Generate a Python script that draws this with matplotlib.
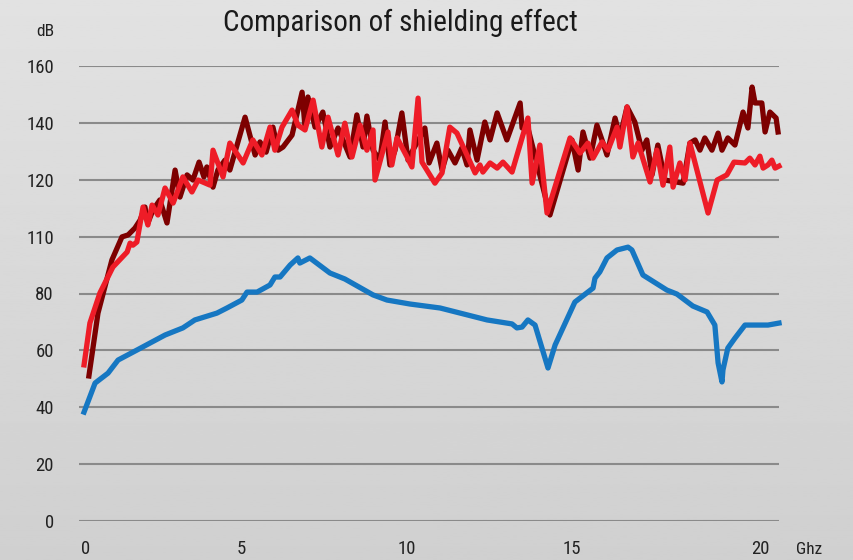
import numpy as np
import matplotlib
matplotlib.use("Agg")
import matplotlib.pyplot as plt

FONT = ["Liberation Sans Narrow", "Roboto Condensed", "Liberation Sans", "DejaVu Sans"]

# frequency (GHz) / shielding (dB)
dark_x = [0.09, 0.37, 0.80, 1.11, 1.30, 1.51, 1.67, 1.82, 1.91, 2.07, 2.28, 2.50, 2.75, 2.90,
          3.12, 3.30, 3.49, 3.64, 3.73, 3.92, 4.07, 4.29, 4.44, 4.91, 5.22, 5.37, 5.56, 5.77,
          5.93, 6.08, 6.36, 6.67, 6.76, 6.85, 7.07, 7.31, 7.53, 7.78, 8.15, 8.36, 8.55, 8.67,
          8.86, 9.07, 9.23, 9.38, 9.54, 9.75, 9.94, 10.09, 10.46, 10.59, 10.83, 10.99, 11.17,
          11.39, 11.60, 11.76, 11.85, 12.07, 12.31, 12.47, 12.69, 12.99, 13.40, 13.46, 13.64,
          14.32, 15.00, 15.19, 15.34, 15.56, 15.77, 15.96, 16.08, 16.33, 16.48, 16.70, 16.94,
          17.16, 17.31, 17.47, 17.65, 17.87, 18.43, 18.64, 18.80, 18.95, 19.10, 19.32, 19.51,
          19.63, 19.81, 20.03, 20.28, 20.43, 20.56, 20.65, 20.86, 20.96, 21.11, 21.30, 21.36]
dark_y = [51.0, 73.1, 91.8, 99.9, 100.6, 103.0, 105.8, 110.4, 104.8, 109.4, 112.9, 104.8, 123.4, 113.9,
          121.7, 119.9, 126.2, 121.0, 124.5, 117.4, 123.4, 126.9, 123.4, 142.0, 128.7, 133.3, 129.7, 138.5,
          130.4, 131.5, 135.7, 150.8, 138.5, 149.1, 138.5, 143.8, 131.5, 138.2, 128.0, 142.8, 131.5, 142.4,
          130.4, 126.9, 140.3, 125.2, 130.4, 143.5, 126.9, 130.4, 138.2, 125.9, 132.9, 123.4, 130.4,
          125.9, 131.2, 125.2, 137.5, 126.9, 140.3, 134.0, 143.5, 134.0, 147.0, 138.2, 138.2,
          107.6, 134.0, 123.4, 136.8, 127.6, 139.2, 132.9, 128.7, 141.7, 135.0, 145.6, 140.3,
          130.4, 134.0, 121.7, 132.2, 119.9, 118.8, 132.9, 134.0, 130.4, 134.7, 130.4, 136.4,
          130.4, 134.7, 132.2, 143.8, 138.2, 152.6, 147.0, 147.0, 136.8, 143.8, 141.7, 136.8]

red_x = [-0.06, 0.12, 0.43, 0.83, 1.27, 1.36, 1.45, 1.57, 1.76, 1.91, 2.04, 2.22, 2.44, 2.69,
         2.99, 3.27, 3.46, 3.83, 3.92, 4.23, 4.44, 4.85, 5.15, 5.43, 5.68, 5.83, 6.05, 6.36,
         6.54, 6.76, 7.01, 7.28, 7.47, 7.78, 7.99, 8.21, 8.46, 8.67, 8.86, 8.92, 9.32, 9.44,
         9.60, 9.91, 10.06, 10.25, 10.37, 10.77, 10.99, 11.23, 11.45, 12.01, 12.16, 12.25,
         12.47, 12.69, 12.87, 13.15, 13.64, 13.77, 14.01, 14.23, 14.94, 15.25, 15.49, 15.65,
         15.93, 16.11, 16.39, 16.48, 16.70, 16.88, 17.04, 17.41, 17.62, 17.81, 18.02, 18.12,
         18.33, 18.49, 18.64, 19.20, 19.48, 19.78, 20.00, 20.34, 20.49, 20.65, 20.80, 20.90,
         21.05, 21.17, 21.27, 21.39]
red_y = [54.9, 69.6, 80.2, 89.3, 94.6, 97.7, 97.0, 98.1, 110.4, 104.1, 111.1, 107.6, 117.1, 111.8,
         121.0, 115.7, 119.9, 118.1, 130.4, 121.0, 132.9, 125.9, 134.0, 128.7, 138.5, 130.4, 138.5, 144.5,
         139.2, 137.5, 148.0, 131.5, 142.0, 128.7, 139.9, 128.0, 139.2, 130.4, 137.5, 119.9, 136.8, 125.2,
         134.7, 128.0, 124.5, 148.7, 126.2, 118.8, 122.4, 138.5, 136.4, 122.4, 125.2, 122.7,
         125.9, 124.1, 126.2, 122.7, 141.7, 118.8, 132.2, 108.3, 134.7, 129.4, 132.9, 127.6,
         133.3, 130.4, 138.5, 131.5, 145.6, 128.0, 132.9, 119.2, 130.4, 118.1, 131.5, 117.4,
         125.9, 119.9, 132.9, 108.3, 119.9, 121.7, 126.2, 125.9, 127.6, 125.2, 128.3, 124.1,
         125.2, 126.9, 124.1, 124.8]

blue_x = [-0.06, 0.28, 0.68, 0.99, 1.57, 1.98, 2.44, 2.99, 3.36, 4.04, 4.35, 4.81, 4.97, 5.28,
          5.68, 5.83, 5.99, 6.30, 6.54, 6.60, 6.91, 7.53, 7.99, 8.86, 9.29, 10.00, 10.93, 12.38,
          13.15, 13.30, 13.46, 13.64, 13.86, 14.26, 14.48, 15.09, 15.65, 15.71, 15.86, 16.08,
          16.39, 16.73, 16.85, 17.19, 17.93, 18.24, 18.73, 19.17, 19.41, 19.51, 19.63, 19.66,
          19.81, 20.03, 20.34, 21.05, 21.39]
blue_y = [38.3, 48.5, 52.0, 56.6, 60.1, 62.6, 65.4, 67.9, 70.7, 73.1, 74.9, 77.7, 80.5, 80.5,
          83.0, 85.8, 85.8, 90.0, 92.5, 90.7, 92.5, 87.2, 85.1, 79.5, 77.7, 76.3, 74.9, 70.7,
          69.3, 67.9, 68.2, 70.7, 68.9, 53.8, 61.9, 77.0, 81.9, 85.4, 87.6, 92.5,
          95.3, 96.3, 95.3, 86.5, 81.2, 79.8, 75.6, 73.5, 68.9, 55.6, 48.9, 53.1,
          60.8, 64.3, 68.9, 68.9, 69.6]

y_ticks = [0, 20, 40, 60, 80, 100, 120, 140, 160]
y_labels = ["0", "20", "40", "60", "80", "110", "120", "140", "160"]
x_ticks = [0, 4.8, 9.9, 15.0, 20.8]
x_labels = ["0", "5", "10", "15", "20"]

fig = plt.figure(figsize=(8.54, 5.6), dpi=100)

# grey background
bg = fig.add_axes([0, 0, 1, 1], zorder=-1)
grad = np.linspace(0.885, 0.815, 256).reshape(-1, 1)
bg.imshow(grad, aspect="auto", cmap="gray", vmin=0, vmax=1, extent=[0, 1, 0, 1])
bg.axis("off")

ax = fig.add_axes([79 / 854, 1 - 521 / 560, 700 / 854, 455 / 560])
ax.patch.set_alpha(0)
ax.set_xlim(-0.216, 21.39)
ax.set_ylim(0, 160)

for t in y_ticks:
    ax.axhline(t, color="#8a8a8a", lw=1.5, zorder=1)

ax.plot(dark_x, dark_y, color="#7d0000", lw=3.8, zorder=3, clip_on=False)
ax.plot(red_x, red_y, color="#ee1c27", lw=3.8, zorder=4, clip_on=False)
ax.plot(blue_x, blue_y, color="#1677c2", lw=3.8, zorder=5, clip_on=False)

for s in ax.spines.values():
    s.set_visible(False)
ax.set_yticks(y_ticks)
ax.set_yticklabels(y_labels, family=FONT, fontsize=13.5, color="#222222")
ax.set_xticks(x_ticks)
ax.set_xticklabels(x_labels, family=FONT, fontsize=13.5, color="#222222")
ax.tick_params(axis="y", length=0, pad=18)
ax.tick_params(axis="x", length=0, pad=14)

fig.text(54 / 854, 1 - 31 / 560, "dB", family=FONT, fontsize=12.5, color="#222222",
         ha="right", va="center")
fig.text(796 / 854, 1 - 549 / 560, "Ghz", family=FONT, fontsize=12.5, color="#222222",
         ha="left", va="center")
fig.text(400 / 854, 1 - 23 / 560, "Comparison of shielding effect", family=FONT,
         fontsize=21, color="#1a1a1a", ha="center", va="center")

fig.savefig("out.png", dpi=100)
